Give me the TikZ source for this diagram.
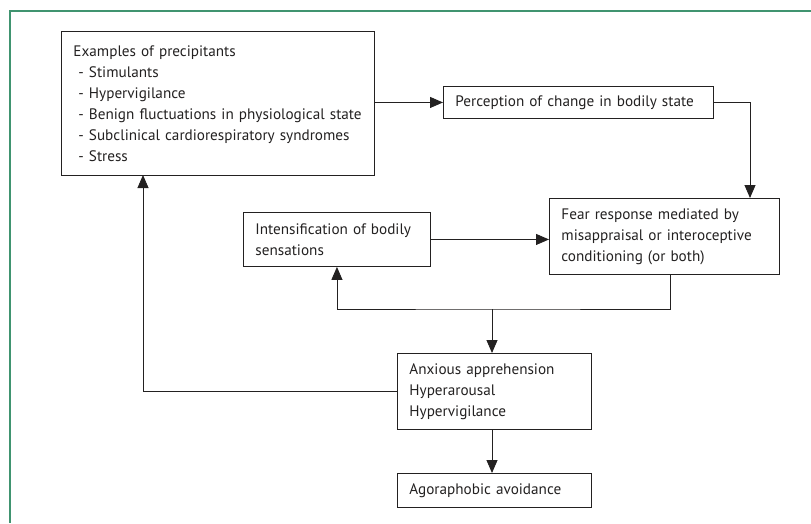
\documentclass[tikz,border=0pt]{standalone}
\usepackage{fontspec}
\setmainfont{PT Sans}
\usetikzlibrary{arrows.meta,calc}
\definecolor{inkgray}{RGB}{35,33,33}
\definecolor{framegreen}{RGB}{64,148,112}

\begin{document}
\begin{tikzpicture}[x=1pt, y=-1pt,
    box/.style={draw=inkgray, line width=0.9pt, anchor=north west, align=left,
      inner xsep=12pt, inner ysep=0pt, text=inkgray,
      font=\fontsize{15.2}{21}\selectfont},
    link/.style={draw=inkgray, line width=0.9pt, -{Triangle[length=13pt, width=11pt]}}]
      \useasboundingbox (0,0) rectangle (811,523);
      % Rahmen
      \draw[framegreen, line width=1.6pt] (811,11) -- (10,11) -- (10,523);

      % Kaesten
      \node[box, text width=289pt, minimum height=144pt] (precip) at (61,31)
        {Examples of precipitants\\
         \hspace*{5pt}- Stimulants\\
         \hspace*{5pt}- Hypervigilance\\
         \hspace*{5pt}- Benign fluctuations in physiological state\\
         \hspace*{5pt}- Subclinical cardiorespiratory syndromes\\
         \hspace*{5pt}- Stress};
      \node[box, text width=246pt, minimum height=32pt] (perc) at (443,86)
        {Perception of change in bodily state};
      \node[box, text width=163pt, minimum height=54pt] (intens) at (243,212)
        {Intensification of bodily\\ sensations};
      \node[box, text width=206pt, minimum height=76pt] (fear) at (549,198)
        {Fear response mediated by\\ misappraisal or interoceptive\\ conditioning (or both)};
      \node[box, text width=170pt, minimum height=76pt] (anx) at (397,353)
        {Anxious apprehension\\ Hyperarousal\\ Hypervigilance};
      \node[box, text width=170pt, minimum height=34pt] (agor) at (397,473)
        {Agoraphobic avoidance};

      % Hilfspunkte
      \coordinate (fearin) at (750,198);
      \coordinate (fearout) at (670,274);
      \coordinate (split) at (492,309);
      \coordinate (back) at (143,175);

      % Verbindungen
      \draw[link] (perc.west -| precip.east) -- (perc.west);
      \draw[link] (perc.east) -| (fearin);
      \draw[link] (intens.east) -- (intens.east -| fear.west);
      \draw[link] (fearout) |- (split) -| (intens.south);
      \draw[link] (split) -- (split |- anx.north);
      \draw[link] (anx.west) -| (back);
      \draw[link] (anx.south -| split) -- (agor.north -| split);
    \end{tikzpicture}
\end{document}
